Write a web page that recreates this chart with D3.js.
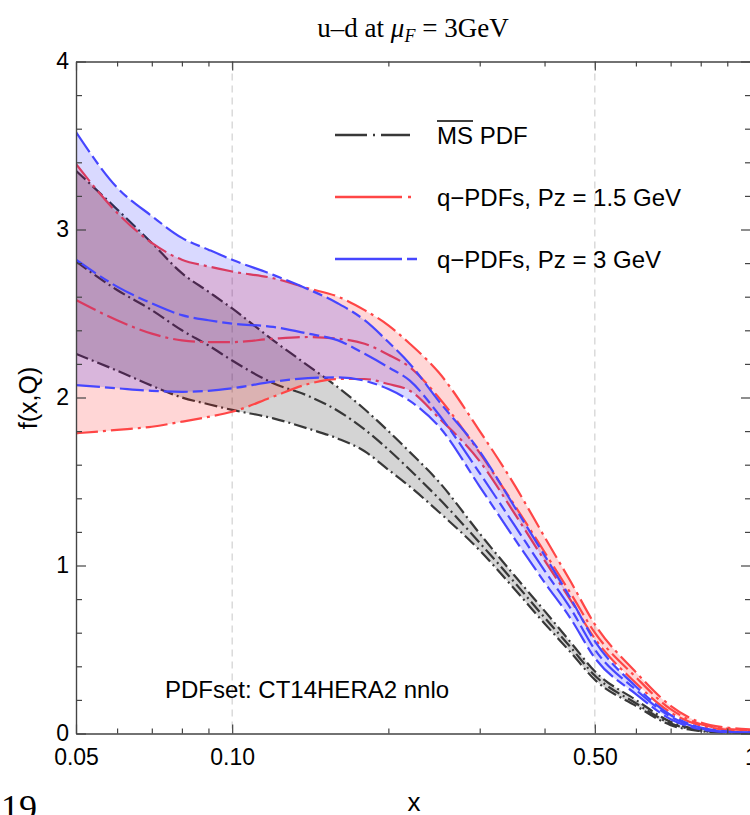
<!DOCTYPE html>
<meta charset="utf-8">
<html>
<head>
<style>
  body { margin: 0; background: #fff; }
  svg text { font-family: "Liberation Sans", Arial, sans-serif; fill: #000; }
</style>
</head>
<body>
<div id="chart"></div>
<script src="https://d3js.org/d3.v7.min.js"></script>
<script>

// x grid shared by all the curves
var xs = [0.05, 0.06, 0.07, 0.08, 0.09, 0.1, 0.12, 0.14, 0.16, 0.18, 0.2, 0.22, 0.25,
          0.3, 0.35, 0.4, 0.45, 0.5, 0.6, 0.7, 0.8, 0.9, 1.0];

// MS-bar PDF (upper / central / lower)
var msUpper   = [3.35, 3.12, 2.92, 2.74, 2.63, 2.53, 2.34, 2.19, 2.06, 1.93, 1.80, 1.675, 1.50,
                 1.19, 0.94, 0.73, 0.54, 0.37, 0.20, 0.07, 0.02, 0.006, 0.002];
var msCentral = [2.81, 2.64, 2.52, 2.40, 2.31, 2.22, 2.085, 2.01, 1.92, 1.81, 1.69, 1.57, 1.40,
                 1.135, 0.90, 0.69, 0.51, 0.345, 0.18, 0.06, 0.017, 0.005, 0.0015];
var msLower   = [2.26, 2.16, 2.07, 2.00, 1.96, 1.926, 1.876, 1.815, 1.755, 1.68, 1.57, 1.47, 1.32,
                 1.09, 0.86, 0.655, 0.48, 0.32, 0.165, 0.05, 0.014, 0.004, 0.001];

// q-PDFs, Pz = 1.5 GeV
var q15Upper   = [3.39, 3.10, 2.92, 2.82, 2.78, 2.75, 2.71, 2.65, 2.60, 2.52, 2.43, 2.32, 2.15,
                  1.80, 1.48, 1.17, 0.90, 0.65, 0.365, 0.165, 0.065, 0.035, 0.025];
var q15Central = [2.58, 2.46, 2.38, 2.34, 2.33, 2.33, 2.35, 2.36, 2.35, 2.32, 2.255, 2.18, 2.00,
                  1.67, 1.36, 1.08, 0.83, 0.60, 0.335, 0.145, 0.055, 0.028, 0.02];
var q15Lower   = [1.787, 1.807, 1.826, 1.856, 1.885, 1.915, 2.005, 2.08, 2.11, 2.11, 2.08, 2.04, 1.88,
                  1.62, 1.31, 1.03, 0.79, 0.565, 0.30, 0.125, 0.047, 0.022, 0.015];

// q-PDFs, Pz = 3 GeV
var q3Upper   = [3.58, 3.25, 3.08, 2.95, 2.88, 2.82, 2.73, 2.645, 2.56, 2.46, 2.33, 2.20, 1.98,
                 1.68, 1.35, 1.06, 0.80, 0.55, 0.28, 0.11, 0.035, 0.012, 0.006];
var q3Central = [2.82, 2.66, 2.56, 2.49, 2.46, 2.44, 2.42, 2.38, 2.34, 2.26, 2.18, 2.10, 1.90,
                 1.55, 1.24, 0.97, 0.74, 0.50, 0.26, 0.10, 0.03, 0.01, 0.005];
var q3Lower   = [2.074, 2.055, 2.04, 2.034, 2.04, 2.055, 2.094, 2.115, 2.12, 2.10, 2.05, 1.98, 1.83,
                 1.47, 1.16, 0.90, 0.68, 0.45, 0.235, 0.085, 0.025, 0.008, 0.004];

// ticks
var xMajor = [0.05, 0.1, 0.5, 1];
var xMajorLabels = ["0.05", "0.10", "0.50", "1"];
var xMinor = [0.06, 0.07, 0.08, 0.09, 0.2, 0.3, 0.4, 0.6, 0.7, 0.8, 0.9];
var xGrid = [0.1, 0.5];
var yMajor = [0, 1, 2, 3, 4];
var yMinor = [0.2, 0.4, 0.6, 0.8, 1.2, 1.4, 1.6, 1.8, 2.2, 2.4, 2.6, 2.8, 3.2, 3.4, 3.6, 3.8];

var legendLabels = ["PDF", "q\u2212PDFs, Pz = 1.5 GeV", "q\u2212PDFs, Pz = 3 GeV"];

var W = 750, H = 815;
// plot frame (note: "top" is reserved on window, so use other names)
var pLeft = 76, pRight = 751, pTop = 61.5, pBottom = 733.5;

var svg = d3.select("#chart").append("svg")
    .attr("width", W)
    .attr("height", H);

var x = d3.scaleLog().domain([0.05, 1]).range([pLeft, pRight]);
var y = d3.scaleLinear().domain([0, 4]).range([pBottom, pTop]);

svg.append("clipPath").attr("id", "plotclip")
  .append("rect")
    .attr("x", pLeft).attr("y", pTop)
    .attr("width", pRight - pLeft).attr("height", pBottom - pTop);

// dashed grid lines at 0.1 and 0.5
svg.append("g").selectAll("line")
  .data(xGrid)
  .enter().append("line")
    .attr("x1", function(d) { return x(d); })
    .attr("x2", function(d) { return x(d); })
    .attr("y1", pTop).attr("y2", pBottom)
    .style("stroke", "#d4d4d4")
    .style("stroke-width", 1.3)
    .style("stroke-dasharray", "7,5");

// one band = fill between upper and lower + three dashed lines
var bands = [
  { up: msUpper,  mid: msCentral,  lo: msLower,  fill: "rgba(0,0,0,0.17)",    stroke: "#383838", dash: "13,4,2,4" },
  { up: q15Upper, mid: q15Central, lo: q15Lower, fill: "rgba(255,0,0,0.16)",  stroke: "#ff4646", dash: "22,5,3,5" },
  { up: q3Upper,  mid: q3Central,  lo: q3Lower,  fill: "rgba(0,0,255,0.15)",  stroke: "#4646ff", dash: "24,5,10,5" }
];

var area = d3.area()
    .x(function(d) { return x(d.x); })
    .y0(function(d) { return y(d.lo); })
    .y1(function(d) { return y(d.up); })
    .curve(d3.curveMonotoneX);

var line = d3.line()
    .x(function(d) { return x(d.x); })
    .y(function(d) { return y(d.v); })
    .curve(d3.curveMonotoneX);

var plot = svg.append("g").attr("clip-path", "url(#plotclip)");

bands.forEach(function(b) {
  var pts = xs.map(function(v, i) { return { x: v, up: b.up[i], lo: b.lo[i] }; });
  plot.append("path")
    .datum(pts)
    .attr("d", area)
    .style("fill", b.fill)
    .style("stroke", "none");

  [b.up, b.mid, b.lo].forEach(function(series) {
    plot.append("path")
      .datum(xs.map(function(v, i) { return { x: v, v: series[i] }; }))
      .attr("d", line)
      .style("fill", "none")
      .style("stroke", b.stroke)
      .style("stroke-width", 2.2)
      .style("stroke-dasharray", b.dash);
  });
});

// frame axes, ticks pointing inward
function styleAxis(g) {
  g.selectAll(".domain").style("stroke", "#444").style("stroke-width", 1.2);
  g.selectAll(".tick line").style("stroke", "#444").style("stroke-width", 1.2);
  g.selectAll("text").style("font-size", "23px").style("fill", "#000")
    .style("font-family", "'Liberation Sans', Arial, sans-serif");
}

svg.append("g")
    .attr("transform", "translate(0," + pBottom + ")")
    .call(d3.axisBottom(x).tickValues(xMajor).tickSize(-9).tickSizeOuter(0).tickPadding(15)
      .tickFormat(function(d, i) { return xMajorLabels[i]; }))
    .call(styleAxis);
svg.append("g")
    .attr("transform", "translate(0," + pBottom + ")")
    .call(d3.axisBottom(x).tickValues(xMinor).tickSize(-5).tickSizeOuter(0).tickFormat(""))
    .call(styleAxis);
svg.append("g")
    .attr("transform", "translate(0," + pTop + ")")
    .call(d3.axisTop(x).tickValues(xMajor).tickSize(-9).tickSizeOuter(0).tickFormat(""))
    .call(styleAxis);
svg.append("g")
    .attr("transform", "translate(0," + pTop + ")")
    .call(d3.axisTop(x).tickValues(xMinor).tickSize(-5).tickSizeOuter(0).tickFormat(""))
    .call(styleAxis);

svg.append("g")
    .attr("transform", "translate(" + pLeft + ",0)")
    .call(d3.axisLeft(y).tickValues(yMajor).tickSize(-10).tickSizeOuter(0).tickPadding(7)
      .tickFormat(d3.format("d")))
    .call(styleAxis);
svg.append("g")
    .attr("transform", "translate(" + pLeft + ",0)")
    .call(d3.axisLeft(y).tickValues(yMinor).tickSize(-6).tickSizeOuter(0).tickFormat(""))
    .call(styleAxis);
svg.append("g")
    .attr("transform", "translate(" + pRight + ",0)")
    .call(d3.axisRight(y).tickValues(yMajor).tickSize(-10).tickSizeOuter(0).tickFormat(""))
    .call(styleAxis);
svg.append("g")
    .attr("transform", "translate(" + pRight + ",0)")
    .call(d3.axisRight(y).tickValues(yMinor).tickSize(-6).tickSizeOuter(0).tickFormat(""))
    .call(styleAxis);

// title
var title = svg.append("text")
    .attr("x", 413).attr("y", 37)
    .attr("text-anchor", "middle")
    .style("font-family", "'Liberation Serif', 'Times New Roman', serif")
    .style("font-size", "27px");
title.append("tspan").text("u\u2013d at ");
title.append("tspan").style("font-style", "italic").text("\u03bc");
title.append("tspan").style("font-style", "italic").style("font-size", "18px").attr("dy", 5).text("F");
title.append("tspan").attr("dy", -5).text(" = 3GeV");

// axis labels
svg.append("text")
    .attr("x", 414).attr("y", 811)
    .attr("text-anchor", "middle")
    .style("font-size", "26px")
    .text("x");

svg.append("text")
    .attr("transform", "translate(37,398) rotate(-90)")
    .attr("text-anchor", "middle")
    .style("font-size", "25px")
    .text("f(x,Q)");

// page number cut off at the bottom
svg.append("text")
    .attr("x", 1).attr("y", 820)
    .style("font-family", "'Liberation Serif', 'Times New Roman', serif")
    .style("font-size", "36px")
    .text("19");

// PDF set note
svg.append("text")
    .attr("x", 165).attr("y", 698)
    .style("font-size", "24px")
    .text("PDFset: CT14HERA2 nnlo");

// legend
var legendY = [135, 197, 259];
var legendDash = ["32,6,2,6", "67,6,3,10", "67,5,11,10"];
var legendEnd = [410, 412, 417];

bands.forEach(function(b, i) {
  svg.append("line")
    .attr("x1", 335).attr("x2", legendEnd[i])
    .attr("y1", legendY[i]).attr("y2", legendY[i])
    .style("stroke", b.stroke)
    .style("stroke-width", 2.5)
    .style("stroke-dasharray", legendDash[i]);
});

var msText = svg.append("text")
    .attr("x", 437).attr("y", legendY[0] + 9)
    .style("font-size", "24px");
var msPart = msText.append("tspan").text("MS");
msText.append("tspan").text(" " + legendLabels[0]);
var msWidth = msPart.node().getComputedTextLength();
svg.append("line")
    .attr("x1", 437).attr("x2", 437 + msWidth)
    .attr("y1", legendY[0] - 14).attr("y2", legendY[0] - 14)
    .style("stroke", "#000").style("stroke-width", 1.5);

svg.append("text")
    .attr("x", 437).attr("y", legendY[1] + 9)
    .style("font-size", "24px")
    .text(legendLabels[1]);
svg.append("text")
    .attr("x", 437).attr("y", legendY[2] + 9)
    .style("font-size", "24px")
    .text(legendLabels[2]);

</script>
</body>
</html>
